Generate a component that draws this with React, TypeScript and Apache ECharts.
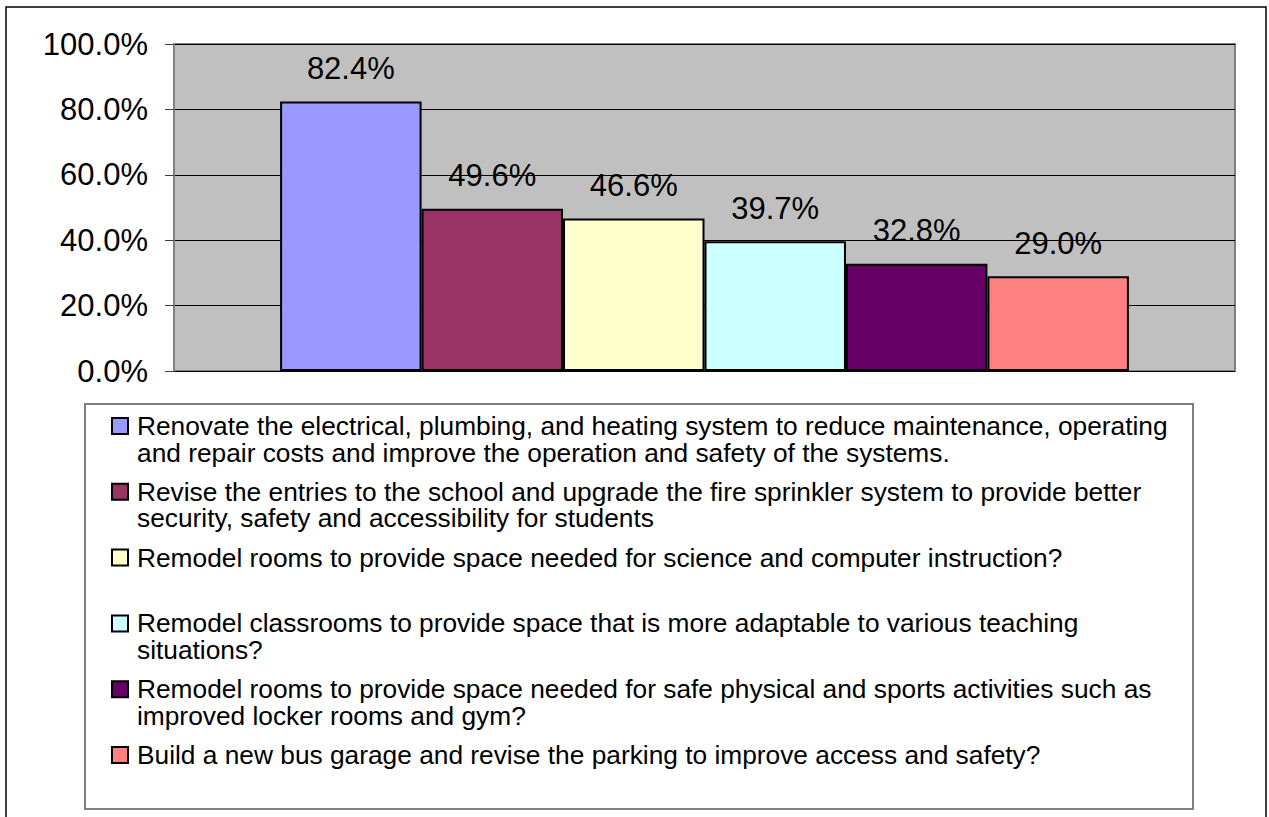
import React, { useEffect, useRef } from "react";
import * as echarts from "echarts";

const categories = [""];
const seriesNames = [
  "Renovate the electrical, plumbing, and heating system to reduce maintenance, operating and repair costs and improve the operation and safety of the systems.",
  "Revise the entries to the school and upgrade the fire sprinkler system to provide better security, safety and accessibility for students",
  "Remodel rooms to provide space needed for science and computer instruction?",
  "Remodel classrooms to provide space that is more adaptable to various teaching situations?",
  "Remodel rooms to provide space needed for safe physical and sports activities such as improved locker rooms and gym?",
  "Build a new bus garage and revise the parking to improve access and safety?",
];
const legendLines = [
  ["Renovate the electrical, plumbing, and heating system to reduce maintenance, operating", "and repair costs and improve the operation and safety of the systems."],
  ["Revise the entries to the school and upgrade the fire sprinkler system to provide better", "security, safety and accessibility for students"],
  ["Remodel rooms to provide space needed for science and computer instruction?"],
  ["Remodel classrooms to provide space that is more adaptable to various teaching", "situations?"],
  ["Remodel rooms to provide space needed for safe physical and sports activities such as", "improved locker rooms and gym?"],
  ["Build a new bus garage and revise the parking to improve access and safety?"],
];
const values = [82.4, 49.6, 46.6, 39.7, 32.8, 29.0];
const colors = ["#9999FF", "#993366", "#FFFFCC", "#CCFFFF", "#660066", "#FF8080"];
const yMin = 0;
const yMax = 100;
const yInterval = 20;

const FONT = "'Liberation Sans', Arial, sans-serif";

export default function App() {
  const ref = useRef<HTMLDivElement>(null);
  useEffect(() => {
    if (!ref.current) return;
    const chart = echarts.init(ref.current, null, { renderer: "svg" });
    const LH = 26.5;
    const FS = 26.3;
    const firstCenter = 426;
    const step = 65.8;
    const legends = seriesNames.map((name, i) => {
      const lines = legendLines[i];
      // a blank first line keeps the first text line centred on the icon
      const shown = lines.length > 1 ? [" ", ...lines] : lines;
      const boxH = shown.length * LH;
      return {
        show: true,
        orient: "vertical",
        left: 111,
        top: firstCenter + i * step - boxH / 2,
        padding: 0,
        itemWidth: 16,
        itemHeight: 16,
        icon: "rect",
        selectedMode: false,
        data: [name],
        formatter: () => shown.map((l) => "{t|" + l + "}").join("\n"),
        textStyle: {
          fontFamily: FONT,
          fontSize: FS,
          lineHeight: LH,
          color: "#000",
          rich: {
            t: {
              fontFamily: FONT,
              fontSize: FS,
              lineHeight: LH,
              color: "#000",
              padding: [0, 0, 0, 4],
            },
          },
        },
      };
    });
    chart.setOption({
      animation: false,
      backgroundColor: "#ffffff",
      grid: {
        left: 174,
        top: 44,
        right: 34,
        bottom: 446,
        show: true,
        backgroundColor: "#c0c0c0",
        borderColor: "#808080",
        borderWidth: 2,
      },
      graphic: [
        {
          type: "rect",
          shape: { x: 6, y: 7, width: 1260, height: 830 },
          style: { fill: "none", stroke: "#000", lineWidth: 1.5 },
          silent: true,
          z: 100,
        },
        {
          type: "rect",
          shape: { x: 85, y: 404, width: 1108, height: 405 },
          style: { fill: "none", stroke: "#808080", lineWidth: 2 },
          silent: true,
        },
      ],
      legend: legends,
      xAxis: {
        type: "category",
        data: categories,
        axisLine: { show: false },
        axisTick: { show: false },
        axisLabel: { show: false },
        splitLine: { show: false },
      },
      yAxis: {
        type: "value",
        min: yMin,
        max: yMax,
        interval: yInterval,
        axisLine: { show: true, lineStyle: { color: "#808080", width: 2 } },
        axisTick: { show: true, length: 9, lineStyle: { color: "#404040", width: 1 } },
        axisLabel: {
          margin: 26,
          fontFamily: FONT,
          fontSize: 31,
          color: "#000",
          formatter: (v: number) => v.toFixed(1) + "%",
        },
        splitLine: { show: true, lineStyle: { color: "#000", width: 1 } },
      },
      series: seriesNames.map((name, i) => ({
        name,
        type: "bar",
        data: [values[i]],
        barGap: "0%",
        barCategoryGap: "20%",
        itemStyle: { color: colors[i], borderColor: "#000", borderWidth: 2 },
        label: {
          show: true,
          position: "top",
          distance: 17.5,
          fontFamily: FONT,
          fontSize: 31,
          color: "#000",
          formatter: (p: any) => Number(p.value).toFixed(1) + "%",
        },
      })),
    });
    return () => chart.dispose();
  }, []);
  return (
    <div
      ref={ref}
      style={{ position: "fixed", left: 0, top: 0, width: 1269, height: 817 }}
    />
  );
}
